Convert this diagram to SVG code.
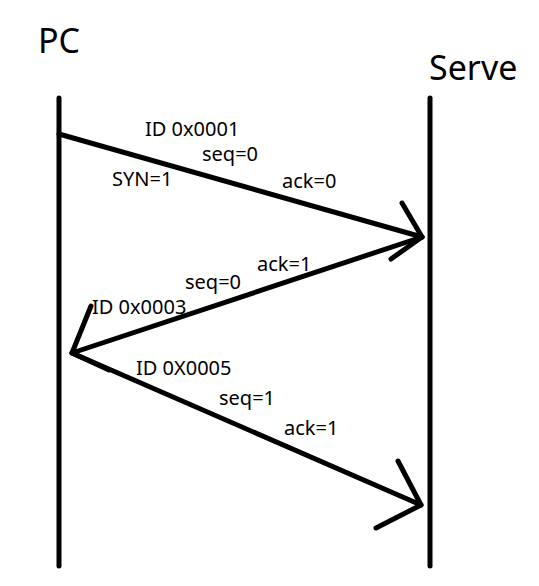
<svg xmlns="http://www.w3.org/2000/svg" width="539" height="586" viewBox="0 0 539 586">
<style>
.t{font-family:"Noto Sans","Open Sans","Liberation Sans",sans-serif;fill:#000}
.lbl{font-size:20px}
.hd{font-size:34px}
.ln{stroke:#000;stroke-width:5;stroke-linecap:round;stroke-linejoin:round;fill:none}
</style>
<rect width="539" height="586" fill="#fff"/>
<g id="pc">
<text class="t hd" x="38" y="53">PC</text>
<line class="ln" x1="59" y1="98" x2="59" y2="566"/>
</g>
<g id="server">
<text class="t hd" x="429" y="80">Serve</text>
<line class="ln" x1="430" y1="98" x2="430" y2="566"/>
</g>
<g id="connectors">
<g id="msg1">
<line class="ln" x1="59" y1="134" x2="422" y2="237"/>
<polyline class="ln" points="402,203 422,237 391,259"/>
<text class="t lbl" x="145" y="136">ID 0x0001</text>
<text class="t lbl" x="202" y="161">seq=0</text>
<text class="t lbl" x="112" y="186">SYN=1</text>
<text class="t lbl" x="282" y="188">ack=0</text>
</g>
<g id="msg2">
<line class="ln" x1="422" y1="237" x2="72" y2="353"/>
<polyline class="ln" points="91,306 72,353 109,370"/>
<text class="t lbl" x="257" y="271">ack=1</text>
<text class="t lbl" x="185" y="289">seq=0</text>
<text class="t lbl" x="92" y="314">ID 0x0003</text>
</g>
<g id="msg3">
<line class="ln" x1="72" y1="353" x2="421" y2="505"/>
<polyline class="ln" points="398,461 421,505 376,528"/>
<text class="t lbl" x="136" y="375">ID 0X0005</text>
<text class="t lbl" x="219" y="405">seq=1</text>
<text class="t lbl" x="284" y="435">ack=1</text>
</g>
</g>
</svg>
